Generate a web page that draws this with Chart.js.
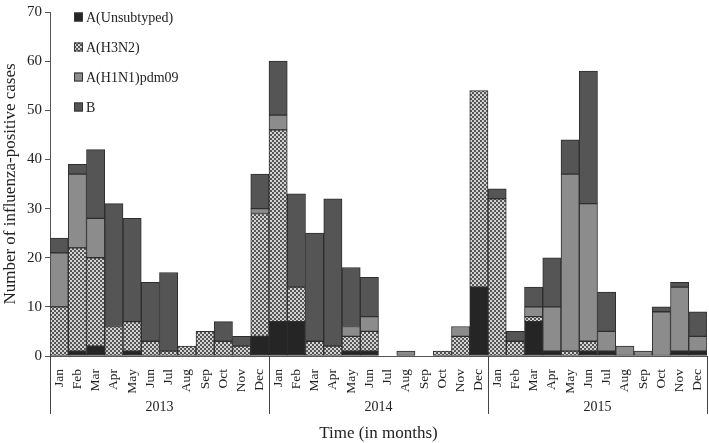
<!DOCTYPE html>
<html>
<head>
<meta charset="UTF-8">
<title>Influenza-positive cases by month</title>
<script src="https://cdn.jsdelivr.net/npm/chart.js@4.4.1/dist/chart.umd.min.js"></script>
<style>
    body { margin: 0; background: #fff; }
    #chartBox { width: 709px; height: 443px; }
</style>
</head>
<body>
<div id="chartBox"><canvas id="fluChart" width="709" height="443"></canvas></div>
<script>
// Months repeat once per year
const monthNames = ['Jan', 'Feb', 'Mar', 'Apr', 'May', 'Jun', 'Jul', 'Aug', 'Sep', 'Oct', 'Nov', 'Dec'];
const years = ['2013', '2014', '2015'];
const yTicks = [0, 10, 20, 30, 40, 50, 60, 70];

// Cases per month, Jan 2013 .. Dec 2015
const unsubtyped = [0, 1, 2, 0, 1, 0, 0, 0, 0, 0, 0, 4,
                    7, 7, 0, 0, 1, 1, 0, 0, 0, 0, 0, 14,
                    0, 0, 7, 1, 0, 1, 1, 0, 0, 0, 1, 1];
const h3n2 = [10, 21, 18, 6, 6, 3, 1, 2, 5, 3, 2, 25,
              39, 7, 3, 2, 3, 4, 0, 0, 0, 1, 4, 40,
              32, 3, 1, 0, 1, 2, 0, 0, 0, 0, 0, 0];
const h1n1 = [11, 15, 8, 0, 0, 0, 0, 0, 0, 0, 0, 1,
              3, 0, 0, 0, 2, 3, 0, 1, 0, 0, 2, 0,
              0, 0, 2, 9, 36, 28, 4, 2, 1, 9, 13, 3];
const typeB = [3, 2, 14, 25, 21, 12, 16, 0, 0, 4, 2, 7,
               11, 19, 22, 30, 12, 8, 0, 0, 0, 0, 0, 0,
               2, 2, 4, 10, 7, 27, 8, 0, 0, 1, 1, 5];

const labels = [];
years.forEach(y => monthNames.forEach(m => labels.push(m)));

const serif = "'Liberation Serif', 'DejaVu Serif', serif";
const textColor = '#222';

function makeCheckPattern(dark, light) {
    const c = document.createElement('canvas');
    c.width = 4;
    c.height = 4;
    const g = c.getContext('2d');
    g.fillStyle = light;
    g.fillRect(0, 0, 4, 4);
    g.fillStyle = dark;
    g.fillRect(0, 0, 2, 2);
    g.fillRect(2, 2, 2, 2);
    return g.createPattern(c, 'repeat');
}

const h3n2Fill = makeCheckPattern('#555555', '#d4d4d4');

// legend in the top-left corner of the plot, one item per row
const cornerLegend = {
    id: 'cornerLegend',
    afterDraw(chart) {
        const ctx = chart.ctx;
        ctx.save();
        ctx.font = '14px ' + serif;
        ctx.textBaseline = 'middle';
        chart.data.datasets.forEach((ds, i) => {
            const y = 17 + i * 30;
            ctx.fillStyle = ds.backgroundColor;
            ctx.fillRect(74, y - 4.5, 9, 9);
            ctx.strokeStyle = '#333';
            ctx.lineWidth = 1;
            ctx.strokeRect(74.5, y - 4, 8, 8);
            ctx.fillStyle = textColor;
            ctx.fillText(ds.label, 86, y + 1);
        });
        ctx.restore();
    }
};

// year groups under the month labels
const yearAxis = {
    id: 'yearAxis',
    afterDraw(chart) {
        const ctx = chart.ctx;
        const x = chart.scales.x;
        const top = chart.chartArea.bottom;
        ctx.save();
        ctx.strokeStyle = '#444';
        ctx.lineWidth = 1;
        for (let k = 0; k <= years.length; k++) {
            const px = Math.round(x.getPixelForValue(k * 12 - 0.5)) + 0.5;
            ctx.beginPath();
            ctx.moveTo(px, top);
            ctx.lineTo(px, 414);
            ctx.stroke();
        }
        ctx.fillStyle = textColor;
        ctx.textAlign = 'center';
        ctx.textBaseline = 'middle';
        ctx.font = '14px ' + serif;
        years.forEach((y, k) => {
            ctx.fillText(y, x.getPixelForValue(k * 12 + 5.5), 407);
        });
        ctx.font = '17px ' + serif;
        ctx.fillText('Time (in months)', (chart.chartArea.left + chart.chartArea.right) / 2, 434);
        ctx.restore();
    }
};

function barSet(label, data, color) {
    return {
        label: label,
        data: data,
        backgroundColor: color,
        borderColor: '#2e2e2e',
        borderWidth: 1,
        borderSkipped: false,
        barPercentage: 1,
        categoryPercentage: 1
    };
}

function initFluChart() {
    const ctx = document.getElementById('fluChart').getContext('2d');
    new Chart(ctx, {
        type: 'bar',
        data: {
            labels: labels,
            datasets: [
                barSet('A(Unsubtyped)', unsubtyped, '#252525'),
                barSet('A(H3N2)', h3n2, h3n2Fill),
                barSet('A(H1N1)pdm09', h1n1, '#8c8c8c'),
                barSet('B', typeB, '#555555')
            ]
        },
        options: {
            responsive: false,
            animation: false,
            layout: { padding: { top: 5, right: 2, left: 0, bottom: 0 } },
            plugins: {
                legend: { display: false },
                tooltip: { enabled: false }
            },
            scales: {
                x: {
                    stacked: true,
                    grid: { display: false },
                    border: { color: '#555' },
                    ticks: {
                        autoSkip: false,
                        minRotation: 90,
                        maxRotation: 90,
                        padding: 5,
                        color: textColor,
                        font: { family: serif, size: 13.5 }
                    },
                    afterFit: (scale) => {
                        scale.height = 87;
                        scale.paddingLeft = 0;
                        scale.paddingRight = 0;
                    }
                },
                y: {
                    stacked: true,
                    min: yTicks[0],
                    max: yTicks[yTicks.length - 1],
                    afterBuildTicks: (scale) => { scale.ticks = yTicks.map(v => ({ value: v })); },
                    grid: { drawOnChartArea: false, drawTicks: true, tickLength: 5, color: '#555' },
                    border: { color: '#555' },
                    ticks: {
                        padding: 3,
                        color: textColor,
                        font: { family: serif, size: 15 }
                    },
                    title: {
                        display: true,
                        text: 'Number of influenza-positive cases',
                        color: textColor,
                        font: { family: serif, size: 17 },
                        padding: 0
                    },
                    afterFit: (scale) => { scale.width = 50; }
                }
            }
        },
        plugins: [cornerLegend, yearAxis]
    });
}

document.addEventListener('DOMContentLoaded', initFluChart);
</script>
</body>
</html>
